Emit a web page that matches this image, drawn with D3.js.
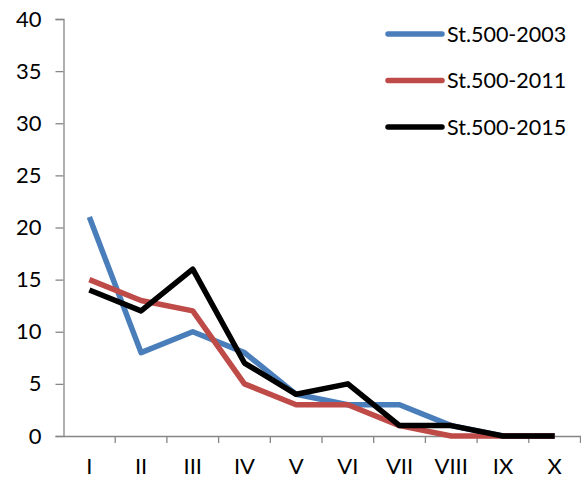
<!DOCTYPE html>
<html>
<head>
<meta charset="utf-8">
<script src="https://cdn.jsdelivr.net/npm/d3@7/dist/d3.min.js"></script>
<style>
  body { margin: 0; background: #fff; }
  text { font-family: Lato, "Open Sans", sans-serif; fill: #000; }
</style>
</head>
<body>
<div id="chart"></div>
<script>
// data
var categories = ["I", "II", "III", "IV", "V", "VI", "VII", "VIII", "IX", "X"];
var seriesNames = ["St.500-2003", "St.500-2011", "St.500-2015"];
var s2003 = [21, 8, 10, 8, 4, 3, 3, 1, 0, 0];
var s2011 = [15, 13, 12, 5, 3, 3, 1, 0, 0, 0];
var s2015 = [14, 12, 16, 7, 4, 5, 1, 1, 0, 0];
var yTicks = [0, 5, 10, 15, 20, 25, 30, 35, 40];
var colors = ["#4a7ebb", "#be4b48", "#000000"];

var series = [s2003, s2011, s2015];

var margin = {top: 19, right: 0, bottom: 48, left: 63.5},
    width = 581 - margin.left - margin.right,
    height = 484 - margin.top - margin.bottom;

var svg = d3.select("#chart")
  .append("svg")
    .attr("width", 581)
    .attr("height", 484)
  .append("g")
    .attr("transform", "translate(" + margin.left + "," + margin.top + ")");

var x = d3.scaleBand()
  .domain(categories)
  .range([0, width - 0.5]);

var y = d3.scaleLinear()
  .domain([0, 40])
  .range([height, 0]);

// Y axis
var yAxis = svg.append("g")
  .call(d3.axisLeft(y).tickValues(yTicks).tickSize(8).tickPadding(14));
yAxis.select(".domain").attr("stroke", "#868686").attr("stroke-width", 1.3);
yAxis.selectAll(".tick line").attr("stroke", "#868686").attr("stroke-width", 1.3);
yAxis.selectAll("text").style("font-size", "22px");

// X axis
var xAxis = svg.append("g")
  .attr("transform", "translate(0," + height + ")")
  .call(d3.axisBottom(x).tickSize(0).tickPadding(22));
xAxis.select(".domain").attr("stroke", "#868686").attr("stroke-width", 1.3);
xAxis.selectAll("text").style("font-size", "22px");

// category separators
svg.append("g")
  .selectAll("line")
  .data(categories)
  .enter()
  .append("line")
    .attr("x1", function(d) { return x(d) + x.bandwidth(); })
    .attr("x2", function(d) { return x(d) + x.bandwidth(); })
    .attr("y1", height)
    .attr("y2", height + 7)
    .attr("stroke", "#868686")
    .attr("stroke-width", 1.3);

// Lines
var line = d3.line()
  .x(function(d, i) { return x(categories[i]) + x.bandwidth() / 2; })
  .y(function(d) { return y(d); });

svg.selectAll(".series")
  .data(series)
  .enter()
  .append("path")
    .attr("class", "series")
    .attr("d", line)
    .attr("fill", "none")
    .attr("stroke", function(d, i) { return colors[i]; })
    .attr("stroke-width", 5.5)
    .attr("stroke-linejoin", "round")
    .attr("stroke-linecap", "butt");

// Legend
var legend = svg.append("g")
  .attr("transform", "translate(" + (388 - margin.left) + "," + (34 - margin.top) + ")");

seriesNames.forEach(function(name, i) {
  var g = legend.append("g").attr("transform", "translate(0," + (i * 46.5) + ")");
  g.append("line")
    .attr("x1", 0).attr("x2", 54)
    .attr("y1", 0).attr("y2", 0)
    .attr("stroke", colors[i])
    .attr("stroke-width", 5.5)
    .attr("stroke-linecap", "round");
  g.append("text")
    .attr("x", 59)
    .attr("y", 0)
    .attr("dy", "0.36em")
    .style("font-size", "21.5px")
    .text(name);
});
</script>
</body>
</html>
